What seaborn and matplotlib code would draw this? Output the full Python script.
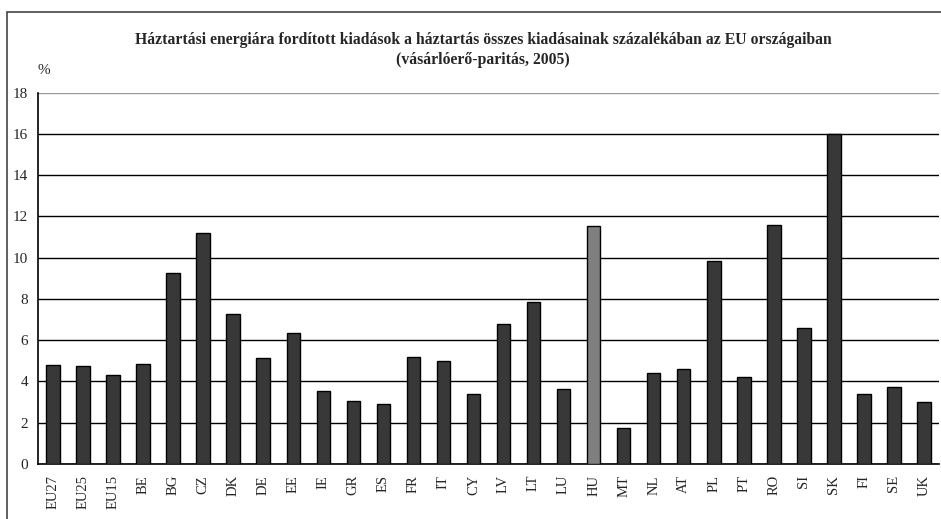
import numpy as np
import pandas as pd
import matplotlib.pyplot as plt
from matplotlib.patches import Rectangle
import seaborn as sns

# Adatok (leolvasva az ábráról)
orszagok = ['EU27', 'EU25', 'EU15', 'BE', 'BG', 'CZ', 'DK', 'DE', 'EE', 'IE',
            'GR', 'ES', 'FR', 'IT', 'CY', 'LV', 'LT', 'LU', 'HU', 'MT',
            'NL', 'AT', 'PL', 'PT', 'RO', 'SI', 'SK', 'FI', 'SE', 'UK']
ertekek = [4.82, 4.77, 4.33, 4.83, 9.27, 11.18, 7.28, 5.12, 6.37, 3.52,
           3.07, 2.92, 5.17, 4.97, 3.37, 6.80, 7.87, 3.64, 11.52, 1.73,
           4.41, 4.62, 9.83, 4.21, 11.60, 6.58, 16.0, 3.37, 3.71, 3.00]
y_ticks = [0, 2, 4, 6, 8, 10, 12, 14, 16, 18]

cim = ('Háztartási energiára fordított kiadások a háztartás összes kiadásainak százalékában az EU országaiban\n'
       '(vásárlóerő-paritás, 2005)')

df = pd.DataFrame({'orszag': orszagok, 'ertek': ertekek})
szinek = {o: ('#7f7f7f' if o == 'HU' else '#383838') for o in orszagok}

sns.set_style('white')
plt.rcParams['font.family'] = ['Liberation Serif', 'DejaVu Serif']

fig = plt.figure(figsize=(9.41, 5.19), dpi=100)
ax = fig.add_axes([38 / 941, 1 - 464 / 519, 901 / 941, (464 - 92.7) / 519])

sns.barplot(data=df, x='orszag', y='ertek', hue='orszag', palette=szinek,
            width=0.45, edgecolor='black', linewidth=1, legend=False, ax=ax, zorder=3)

ax.set_ylim(0, 18)
ax.set_xlim(-0.5, len(orszagok) - 0.5)
ax.set_yticks(y_ticks)
ax.set_yticklabels([str(v) for v in y_ticks], fontsize=11)
ax.set_xticks(range(len(orszagok)))
ax.set_xticklabels(orszagok, rotation=90, fontsize=10.5)
ax.set_xticks(np.arange(-0.5, len(orszagok)), minor=True)
ax.tick_params(axis='x', which='major', length=0, pad=8)
ax.tick_params(axis='x', which='minor', length=5, width=1, color='black', direction='out')
ax.tick_params(axis='y', length=4, width=1, color='black', direction='out', pad=3)
ax.set_xlabel('')
ax.set_ylabel('')

ax.grid(axis='y', color='black', linewidth=1, zorder=0)
ax.get_ygridlines()[-1].set_color('#999999')
ax.set_axisbelow(True)

for s in ['top', 'right']:
    ax.spines[s].set_visible(False)
for s in ['left', 'bottom']:
    ax.spines[s].set_color('black')
    ax.spines[s].set_linewidth(1.2)

# külső keret
fig.add_artist(Rectangle((7 / 941, -0.1), 1.2, 1.1 - 12 / 519,
                         transform=fig.transFigure, fill=False,
                         edgecolor='#444444', linewidth=1.2))

fig.text(483 / 941, 1 - 50 / 519, cim, ha='center', va='center',
         fontsize=11.3, fontweight='bold', linespacing=1.4)
fig.text(37 / 941, 1 - 71 / 519, '%', ha='left', va='center', fontsize=11)

fig.savefig('out.png', dpi=100)
